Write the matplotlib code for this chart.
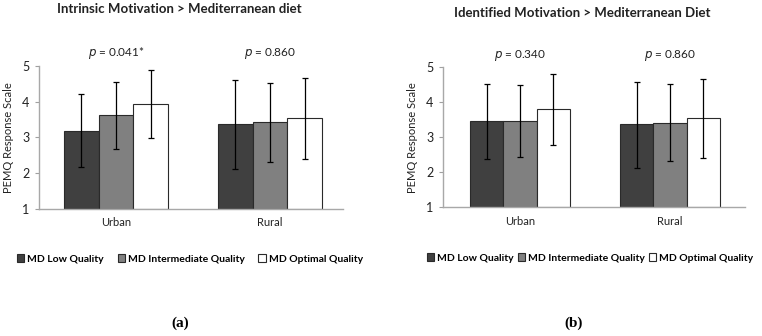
import matplotlib
matplotlib.use("Agg")
import matplotlib.pyplot as plt
import numpy as np

plt.rcParams['font.family'] = ['Lato', 'DejaVu Sans']

groups = ["Urban", "Rural"]
series = ["MD Low Quality", "MD Intermediate Quality", "MD Optimal Quality"]
colors = ["#404040", "#808080", "#ffffff"]

# Panel (a): Intrinsic motivation
a_means = [[3.18, 3.37], [3.62, 3.42], [3.94, 3.54]]
a_upper = [[4.20, 4.59], [4.55, 4.53], [4.88, 4.66]]
a_lower = [[2.16, 2.13], [2.68, 2.32], [2.98, 2.40]]
a_pvals = ["$p$ = 0.041*", "$p$ = 0.860"]
a_title = "Intrinsic Motivation > Mediterranean diet"

# Panel (b): Identified motivation
b_means = [[3.46, 3.37], [3.48, 3.42], [3.80, 3.54]]
b_upper = [[4.52, 4.59], [4.49, 4.53], [4.82, 4.66]]
b_lower = [[2.38, 2.13], [2.45, 2.32], [2.77, 2.40]]
b_pvals = ["$p$ = 0.340", "$p$ = 0.860"]
b_title = "Identified Motivation > Mediterranean Diet"

yticks = [1, 2, 3, 4, 5]
ylabel = "PEMQ Response Scale"

fig = plt.figure(figsize=(7.62, 3.36), dpi=100)

panels = [
    dict(rect=[0.0516, 0.378, 0.3986, 0.4265], xlim=(-0.498, 1.474), width=0.225,
         means=a_means, upper=a_upper, lower=a_lower, pvals=a_pvals, title=a_title,
         title_xy=(179 / 762, 1 - 9 / 336), pval_y=5.35, legend_xy=(17 / 762, 1 - 259 / 336),
         colspace=1.3, label="(a)", label_xy=(180 / 762, 1 - 323 / 336)),
    dict(rect=[0.5814, 0.383, 0.3963, 0.4167], xlim=(-0.513, 1.5), width=0.222,
         means=b_means, upper=b_upper, lower=b_lower, pvals=b_pvals, title=b_title,
         title_xy=(582 / 762, 1 - 13 / 336), pval_y=5.33, legend_xy=(427 / 762, 1 - 258 / 336),
         colspace=0.35, label="(b)", label_xy=(574 / 762, 1 - 323 / 336)),
]

x = np.arange(len(groups))
for p in panels:
    ax = fig.add_axes(p["rect"])
    w = p["width"]
    handles = []
    for i, name in enumerate(series):
        pos = x + (i - 1) * w
        m = np.array(p["means"][i])
        up = np.array(p["upper"][i]) - m
        lo = m - np.array(p["lower"][i])
        b = ax.bar(pos, m - 1, bottom=1, width=w, color=colors[i], edgecolor="#2a2a2a",
                   linewidth=0.8, label=name, zorder=2)
        ax.errorbar(pos, m, yerr=[lo, up], fmt="none", ecolor="black", elinewidth=0.9,
                    capsize=2.5, capthick=0.9, zorder=3)
        handles.append(b)
    ax.set_xlim(*p["xlim"])
    ax.set_ylim(1, 5)
    ax.set_yticks(yticks)
    ax.set_xticks(x)
    ax.set_xticklabels(groups, fontsize=8, color="#222222")
    ax.tick_params(axis="x", length=0, pad=6)
    ax.tick_params(axis="y", length=3, width=0.8, color="#a0a0a0", labelsize=9,
                   labelcolor="#222222", pad=4)
    for s in ["top", "right"]:
        ax.spines[s].set_visible(False)
    for s in ["left", "bottom"]:
        ax.spines[s].set_color("#a8a8a8")
        ax.spines[s].set_linewidth(1.0)
    ax.set_ylabel(ylabel, fontsize=8, color="#222222", labelpad=6)
    for gi, txt in enumerate(p["pvals"]):
        ax.text(x[gi], p["pval_y"], txt, ha="center", va="center", fontsize=8.5,
                color="#222222", clip_on=False)
    fig.text(p["title_xy"][0], p["title_xy"][1], p["title"], ha="center", va="center",
             fontsize=9.5, fontweight="bold", color="#222222")
    fig.legend(handles=handles, labels=series, loc="center left",
               bbox_to_anchor=p["legend_xy"], ncol=3, frameon=False,
               prop=dict(size=7.5, weight="bold"),
               handlelength=0.7, handleheight=0.7, handletextpad=0.3,
               columnspacing=p["colspace"], borderaxespad=0, borderpad=0)
    fig.text(p["label_xy"][0], p["label_xy"][1], p["label"], ha="center", va="center",
             fontsize=11, fontweight="bold", family="Liberation Serif", color="black")

fig.savefig("out.png", dpi=100)
